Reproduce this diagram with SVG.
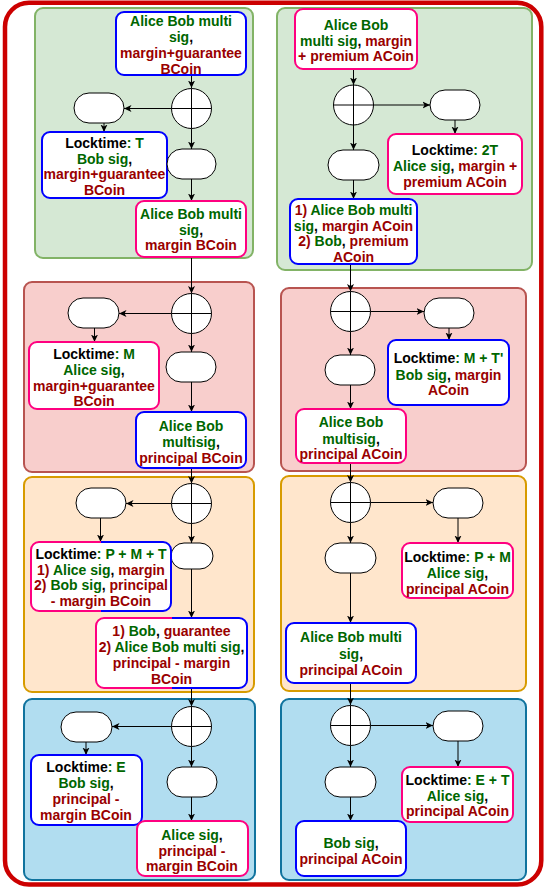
<svg xmlns="http://www.w3.org/2000/svg" width="548" height="889" viewBox="0 0 548 889">
  <style>
    .panel { stroke-width: 2; }
    .green { fill: #d5e8d4; stroke: #82b366; }
    .red { fill: #f8cecc; stroke: #b85450; }
    .orange { fill: #ffe6cc; stroke: #d79b00; }
    .blue { fill: #b1ddf0; stroke: #10739e; }
    .box { fill: #ffffff; stroke-width: 2; }
    .bb { stroke: #0000ff; }
    .pb { stroke: #ff0080; }
    .gb { stroke: url(#pinkBlue); }
    .term, .junction { fill: #ffffff; stroke: #000000; stroke-width: 1; }
    .cross { stroke: #000000; stroke-width: 1; fill: none; }
    .edge { stroke: #000000; stroke-width: 1; fill: none; marker-end: url(#arr); }
    .plain { stroke: #000000; stroke-width: 1; fill: none; }
    text { font-family: "Liberation Sans", Arial, Helvetica, sans-serif; font-weight: bold; font-size: 14px; text-anchor: middle; }
    .g { fill: #006600; }
    .r { fill: #990000; }
    .k { fill: #000000; }
  </style>
  <defs>
    <marker id="arr" viewBox="0 0 8 8" markerWidth="8" markerHeight="8" refX="7.5" refY="4" orient="auto" markerUnits="userSpaceOnUse">
      <path d="M0,0.5 L7.5,4 L0,7.5 L2,4 z" fill="#000000"/>
    </marker>
    <linearGradient id="pinkBlue" x1="0" y1="0" x2="1" y2="0">
      <stop offset="0.5" stop-color="#ff0080"/>
      <stop offset="0.5" stop-color="#0000ff"/>
    </linearGradient>
  </defs>

  <!-- outer frame -->
  <rect id="frame" x="5" y="2.7" width="536.3" height="881.8" rx="24" ry="24" fill="#ffffff" stroke="#cc0000" stroke-width="4.5"/>

  <!-- stage panels -->
  <g id="panels">
    <rect id="panel-l1" class="panel green" x="35" y="8" width="218" height="250" rx="8"/>
    <rect id="panel-r1" class="panel green" x="277" y="8" width="255" height="262" rx="8"/>
    <rect id="panel-l2" class="panel red" x="24" y="282" width="230" height="190" rx="8"/>
    <rect id="panel-r2" class="panel red" x="281" y="288" width="245" height="183" rx="8"/>
    <rect id="panel-l3" class="panel orange" x="24" y="477" width="230" height="215" rx="8"/>
    <rect id="panel-r3" class="panel orange" x="281" y="476" width="245" height="215" rx="8"/>
    <rect id="panel-l4" class="panel blue" x="24" y="699" width="231" height="181" rx="8"/>
    <rect id="panel-r4" class="panel blue" x="281" y="699" width="245" height="181" rx="8"/>
  </g>

  <!-- connectors -->
  <g id="connectors">
    <!-- left column -->
    <line class="edge" x1="191.5" y1="75" x2="191.5" y2="88"/>
    <line class="edge" x1="171.5" y1="108.5" x2="124" y2="108.5"/>
    <line class="edge" x1="104" y1="123" x2="104" y2="132"/>
    <line class="edge" x1="191.5" y1="128.5" x2="191.5" y2="149"/>
    <line class="edge" x1="191.5" y1="179" x2="191.5" y2="201"/>
    <line class="edge" x1="191.5" y1="257" x2="191.5" y2="293.5"/>

    <line class="edge" x1="171.5" y1="313.5" x2="119" y2="313.5"/>
    <line class="edge" x1="94.5" y1="328" x2="94.5" y2="342"/>
    <line class="edge" x1="191.5" y1="333.5" x2="191.5" y2="352"/>
    <line class="edge" x1="191.5" y1="382" x2="191.5" y2="412"/>
    <line class="edge" x1="191.5" y1="468" x2="191.5" y2="483.5"/>

    <line class="edge" x1="171.5" y1="503.5" x2="126" y2="503.5"/>
    <line class="edge" x1="100.5" y1="518" x2="100.5" y2="542"/>
    <line class="edge" x1="191.5" y1="523.5" x2="191.5" y2="543"/>
    <line class="edge" x1="191.5" y1="569" x2="191.5" y2="618"/>
    <line class="edge" x1="191.5" y1="688" x2="191.5" y2="706.5"/>

    <line class="edge" x1="171.5" y1="726.5" x2="112" y2="726.5"/>
    <line class="edge" x1="86" y1="742" x2="86" y2="755"/>
    <line class="edge" x1="191.5" y1="746.5" x2="191.5" y2="767"/>
    <line class="edge" x1="191.5" y1="797" x2="191.5" y2="821"/>

    <!-- right column -->
    <line class="edge" x1="353.5" y1="69" x2="353.5" y2="85"/>
    <line class="edge" x1="373.5" y1="105" x2="430" y2="105"/>
    <line class="edge" x1="455" y1="120" x2="455" y2="134"/>
    <line class="edge" x1="353.5" y1="125" x2="353.5" y2="150"/>
    <line class="edge" x1="353.5" y1="180" x2="353.5" y2="199"/>
    <line class="edge" x1="350.5" y1="264" x2="350.5" y2="291.5"/>

    <line class="edge" x1="370.5" y1="311.5" x2="424" y2="311.5"/>
    <line class="edge" x1="449" y1="328" x2="449" y2="340"/>
    <line class="edge" x1="350.5" y1="331.5" x2="350.5" y2="355"/>
    <line class="edge" x1="350.5" y1="385" x2="350.5" y2="409"/>
    <line class="edge" x1="350.5" y1="463" x2="350.5" y2="482.5"/>

    <line class="edge" x1="370.5" y1="502.5" x2="433" y2="502.5"/>
    <line class="edge" x1="458" y1="518" x2="458" y2="543"/>
    <line class="edge" x1="350.5" y1="522.5" x2="350.5" y2="543"/>
    <line class="edge" x1="350.5" y1="573" x2="350.5" y2="623"/>
    <line class="edge" x1="350.5" y1="683" x2="350.5" y2="705"/>

    <line class="edge" x1="370.5" y1="725.5" x2="433" y2="725.5"/>
    <line class="edge" x1="458" y1="741" x2="458" y2="767"/>
    <line class="edge" x1="350.5" y1="745.5" x2="350.5" y2="767"/>
    <line class="edge" x1="350.5" y1="797" x2="350.5" y2="821"/>
  </g>

  <!-- ===== left column, stage 1 ===== -->
  <g id="l1-start">
    <rect class="box bb" x="116" y="12" width="130" height="63" rx="8"/>
    <text><tspan x="181" y="26" class="g">Alice Bob multi</tspan><tspan x="181" y="42"><tspan class="g">sig</tspan><tspan class="k">,</tspan></tspan><tspan x="181" y="58" class="r">margin+guarantee</tspan><tspan x="181" y="74" class="r">BCoin</tspan></text>
  </g>
  <g id="l1-split">
    <circle class="junction" cx="191.5" cy="108.5" r="20"/>
    <path class="cross" d="M171.5,108.5 H211.5 M191.5,88.5 V128.5"/>
  </g>
  <g id="l1-alt"><rect class="term" x="74" y="93" width="50" height="30" rx="15"/></g>
  <g id="l1-lock">
    <rect class="box bb" x="42" y="132" width="125" height="66" rx="8"/>
    <text><tspan x="104.5" y="148"><tspan class="k">Locktime</tspan><tspan class="g">: T</tspan></tspan><tspan x="104.5" y="163.5"><tspan class="g">Bob sig</tspan><tspan class="k">,</tspan></tspan><tspan x="104.5" y="179" class="r">margin+guarantee</tspan><tspan x="104.5" y="195" class="r">BCoin</tspan></text>
  </g>
  <g id="l1-main"><rect class="term" x="167" y="149" width="49" height="30" rx="15"/></g>
  <g id="l1-out">
    <rect class="box pb" x="136" y="201" width="110" height="56" rx="8"/>
    <text><tspan x="191" y="218.5" class="g">Alice Bob multi</tspan><tspan x="191" y="234.5"><tspan class="g">sig</tspan><tspan class="k">,</tspan></tspan><tspan x="191" y="250" class="r">margin BCoin</tspan></text>
  </g>

  <!-- ===== left column, stage 2 ===== -->
  <g id="l2-split">
    <circle class="junction" cx="191.5" cy="313.5" r="20"/>
    <path class="cross" d="M171.5,313.5 H211.5 M191.5,293.5 V333.5"/>
  </g>
  <g id="l2-alt"><rect class="term" x="68" y="298" width="51" height="30" rx="15"/></g>
  <g id="l2-lock">
    <rect class="box pb" x="29" y="342" width="130" height="67" rx="8"/>
    <text><tspan x="94" y="359"><tspan class="k">Locktime</tspan><tspan class="g">: M</tspan></tspan><tspan x="94" y="375"><tspan class="g">Alice sig</tspan><tspan class="k">,</tspan></tspan><tspan x="94" y="391" class="r">margin+guarantee</tspan><tspan x="94" y="406" class="r">BCoin</tspan></text>
  </g>
  <g id="l2-main"><rect class="term" x="166" y="352" width="50" height="30" rx="15"/></g>
  <g id="l2-out">
    <rect class="box bb" x="136" y="412" width="110" height="56" rx="8"/>
    <text><tspan x="191" y="431" class="g">Alice Bob</tspan><tspan x="191" y="447"><tspan class="g">multisig</tspan><tspan class="k">,</tspan></tspan><tspan x="191" y="462.5" class="r">principal BCoin</tspan></text>
  </g>

  <!-- ===== left column, stage 3 ===== -->
  <g id="l3-split">
    <circle class="junction" cx="191.5" cy="503.5" r="20"/>
    <path class="cross" d="M171.5,503.5 H211.5 M191.5,483.5 V523.5"/>
  </g>
  <g id="l3-alt"><rect class="term" x="76" y="488" width="50" height="30" rx="15"/></g>
  <g id="l3-main"><rect class="term" x="171" y="543" width="42" height="26" rx="13"/></g>
  <g id="l3-lock">
    <rect class="box gb" x="31" y="542" width="140" height="69" rx="8"/>
    <text><tspan x="101" y="558.5"><tspan class="k">Locktime</tspan><tspan class="g">: P + M + T</tspan></tspan><tspan x="101" y="574.5"><tspan class="r">1) </tspan><tspan class="g">Alice sig</tspan><tspan class="k">, </tspan><tspan class="r">margin</tspan></tspan><tspan x="101" y="590"><tspan class="r">2) </tspan><tspan class="g">Bob sig</tspan><tspan class="k">, </tspan><tspan class="r">principal</tspan></tspan><tspan x="101" y="606" class="r">- margin BCoin</tspan></text>
  </g>
  <g id="l3-out">
    <rect class="box gb" x="96" y="618" width="151" height="70" rx="8"/>
    <text><tspan x="171.5" y="636"><tspan class="r">1) </tspan><tspan class="g">Bob</tspan><tspan class="k">, </tspan><tspan class="r">guarantee</tspan></tspan><tspan x="171.5" y="652"><tspan class="r">2) </tspan><tspan class="g">Alice Bob multi sig</tspan><tspan class="k">,</tspan></tspan><tspan x="171.5" y="668" class="r">principal - margin</tspan><tspan x="171.5" y="683.5" class="r">BCoin</tspan></text>
  </g>

  <!-- ===== left column, stage 4 ===== -->
  <g id="l4-split">
    <circle class="junction" cx="191.5" cy="726.5" r="20"/>
    <path class="cross" d="M171.5,726.5 H211.5 M191.5,706.5 V746.5"/>
  </g>
  <g id="l4-alt"><rect class="term" x="61" y="712" width="51" height="30" rx="15"/></g>
  <g id="l4-lock">
    <rect class="box bb" x="31" y="755" width="111" height="70" rx="8"/>
    <text><tspan x="86" y="772"><tspan class="k">Locktime</tspan><tspan class="g">: E</tspan></tspan><tspan x="86" y="788"><tspan class="g">Bob sig</tspan><tspan class="k">,</tspan></tspan><tspan x="86" y="803.5" class="r">principal -</tspan><tspan x="86" y="819.5" class="r">margin BCoin</tspan></text>
  </g>
  <g id="l4-main"><rect class="term" x="167" y="767" width="50" height="30" rx="15"/></g>
  <g id="l4-out">
    <rect class="box pb" x="137" y="821" width="111" height="55" rx="8"/>
    <text><tspan x="192" y="840"><tspan class="g">Alice sig</tspan><tspan class="k">,</tspan></tspan><tspan x="192" y="856" class="r">principal -</tspan><tspan x="192" y="871" class="r">margin BCoin</tspan></text>
  </g>

  <!-- ===== right column, stage 1 ===== -->
  <g id="r1-start">
    <rect class="box pb" x="295" y="9" width="122" height="60" rx="8"/>
    <text><tspan x="356" y="30" class="g">Alice Bob</tspan><tspan x="356" y="45.7"><tspan class="g">multi sig</tspan><tspan class="k">, </tspan><tspan class="r">margin</tspan></tspan><tspan x="356" y="61" class="r">+ premium ACoin</tspan></text>
  </g>
  <g id="r1-split">
    <circle class="junction" cx="353.5" cy="105" r="20"/>
    <path class="cross" d="M333.5,105 H373.5 M353.5,85 V125"/>
  </g>
  <g id="r1-alt"><rect class="term" x="430" y="90" width="50" height="30" rx="15"/></g>
  <g id="r1-lock">
    <rect class="box pb" x="388" y="134" width="134" height="60" rx="8"/>
    <text><tspan x="455" y="154.5"><tspan class="k">Locktime</tspan><tspan class="g">: 2T</tspan></tspan><tspan x="455" y="171"><tspan class="g">Alice sig</tspan><tspan class="k">, </tspan><tspan class="r">margin +</tspan></tspan><tspan x="455" y="187" class="r">premium ACoin</tspan></text>
  </g>
  <g id="r1-main"><rect class="term" x="328" y="150" width="51" height="30" rx="15"/></g>
  <g id="r1-out">
    <rect class="box bb" x="290" y="199" width="127" height="65" rx="8"/>
    <text><tspan x="353.5" y="215"><tspan class="r">1) </tspan><tspan class="g">Alice Bob multi</tspan></tspan><tspan x="353.5" y="231"><tspan class="g">sig</tspan><tspan class="k">, </tspan><tspan class="r">margin ACoin</tspan></tspan><tspan x="353.5" y="246"><tspan class="r">2) </tspan><tspan class="g">Bob</tspan><tspan class="k">, </tspan><tspan class="r">premium</tspan></tspan><tspan x="353.5" y="262" class="r">ACoin</tspan></text>
  </g>

  <!-- ===== right column, stage 2 ===== -->
  <g id="r2-split">
    <circle class="junction" cx="350.5" cy="311.5" r="20"/>
    <path class="cross" d="M330.5,311.5 H370.5 M350.5,291.5 V331.5"/>
  </g>
  <g id="r2-alt"><rect class="term" x="424" y="298" width="50" height="30" rx="15"/></g>
  <g id="r2-lock">
    <rect class="box bb" x="388" y="340" width="121" height="65" rx="8"/>
    <text><tspan x="448.5" y="363"><tspan class="k">Locktime</tspan><tspan class="g">: M + T'</tspan></tspan><tspan x="448.5" y="379.5"><tspan class="g">Bob sig</tspan><tspan class="k">, </tspan><tspan class="r">margin</tspan></tspan><tspan x="448.5" y="395" class="r">ACoin</tspan></text>
  </g>
  <g id="r2-main"><rect class="term" x="325" y="355" width="50" height="30" rx="15"/></g>
  <g id="r2-out">
    <rect class="box pb" x="296" y="409" width="110" height="54" rx="8"/>
    <text><tspan x="351" y="427" class="g">Alice Bob</tspan><tspan x="351" y="443.5"><tspan class="g">multisig</tspan><tspan class="k">,</tspan></tspan><tspan x="351" y="458.5" class="r">principal ACoin</tspan></text>
  </g>

  <!-- ===== right column, stage 3 ===== -->
  <g id="r3-split">
    <circle class="junction" cx="350.5" cy="502.5" r="20"/>
    <path class="cross" d="M330.5,502.5 H370.5 M350.5,482.5 V522.5"/>
  </g>
  <g id="r3-alt"><rect class="term" x="433" y="488" width="50" height="30" rx="15"/></g>
  <g id="r3-lock">
    <rect class="box pb" x="402" y="543" width="111" height="55" rx="8"/>
    <text><tspan x="457.5" y="562"><tspan class="k">Locktime</tspan><tspan class="g">: P + M</tspan></tspan><tspan x="457.5" y="578"><tspan class="g">Alice sig</tspan><tspan class="k">,</tspan></tspan><tspan x="457.5" y="593.5" class="r">principal ACoin</tspan></text>
  </g>
  <g id="r3-main"><rect class="term" x="325" y="543" width="51" height="30" rx="15"/></g>
  <g id="r3-out">
    <rect class="box bb" x="286" y="623" width="130" height="60" rx="8"/>
    <text><tspan x="351" y="642" class="g">Alice Bob multi</tspan><tspan x="351" y="658.5"><tspan class="g">sig</tspan><tspan class="k">,</tspan></tspan><tspan x="351" y="674.5" class="r">principal ACoin</tspan></text>
  </g>

  <!-- ===== right column, stage 4 ===== -->
  <g id="r4-split">
    <circle class="junction" cx="350.5" cy="725.5" r="20"/>
    <path class="cross" d="M330.5,725.5 H370.5 M350.5,705.5 V745.5"/>
  </g>
  <g id="r4-alt"><rect class="term" x="433" y="711" width="50" height="30" rx="15"/></g>
  <g id="r4-lock">
    <rect class="box pb" x="402" y="767" width="111" height="55" rx="8"/>
    <text><tspan x="457.5" y="784.5"><tspan class="k">Locktime</tspan><tspan class="g">: E + T</tspan></tspan><tspan x="457.5" y="801"><tspan class="g">Alice sig</tspan><tspan class="k">,</tspan></tspan><tspan x="457.5" y="816" class="r">principal ACoin</tspan></text>
  </g>
  <g id="r4-main"><rect class="term" x="325" y="767" width="51" height="30" rx="15"/></g>
  <g id="r4-out">
    <rect class="box bb" x="296" y="821" width="110" height="55" rx="8"/>
    <text><tspan x="351" y="848"><tspan class="g">Bob sig</tspan><tspan class="k">,</tspan></tspan><tspan x="351" y="863.5" class="r">principal ACoin</tspan></text>
  </g>
</svg>
